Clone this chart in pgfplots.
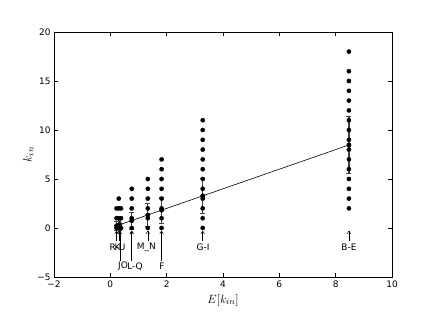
\documentclass[border=0pt]{standalone}
\usepackage{pgfplots}
\pgfplotsset{compat=1.18}
\usepackage{fontspec}
\setmainfont{DejaVu Sans}
\usetikzlibrary{arrows.meta}
\begin{document}
\begin{tikzpicture}
\begin{axis}[
 name=ax,
 scale only axis, width=338bp, height=245bp,
 xmin=-2, xmax=10, ymin=-5, ymax=20,
 xtick={-2,0,2,4,6,8,10}, ytick={-5,0,5,10,15,20},
 xticklabels={−2,0,2,4,6,8,10}, yticklabels={−5,0,5,10,15,20},
 tick align=inside, major tick length=4bp,
 tick style={black, line width=0.5pt},
 axis line style={line width=0.8pt},
 ticklabel style={font=\fontsize{9}{10}\selectfont},
 xlabel={$E[k_{in}]$}, ylabel={$k_{in}$},
 label style={font=\fontsize{13}{15}\selectfont},
 xlabel style={yshift=0bp},
 ylabel style={yshift=-3bp},
 clip=false,
]
% individual nodes
\addplot[only marks, mark=*, mark size=2.1bp, black] coordinates {
 (0.22,0) (0.22,1) (0.22,2)
 (0.30,0) (0.30,1) (0.30,2) (0.30,3)
 (0.38,0) (0.38,1) (0.38,2)
 (0.76,0) (0.76,1) (0.76,2) (0.76,3) (0.76,4)
 (1.33,0) (1.33,1) (1.33,2) (1.33,3) (1.33,4) (1.33,5)
 (1.82,0) (1.82,1) (1.82,2) (1.82,3) (1.82,4) (1.82,5) (1.82,6) (1.82,7)
 (3.28,0) (3.28,1) (3.28,2) (3.28,3) (3.28,4) (3.28,5) (3.28,6) (3.28,7) (3.28,8) (3.28,9) (3.28,10) (3.28,11)
 (8.47,2) (8.47,3) (8.47,4) (8.47,5) (8.47,6) (8.47,7) (8.47,8) (8.47,9) (8.47,10) (8.47,11) (8.47,12) (8.47,13) (8.47,14) (8.47,15) (8.47,16) (8.47,18)
};
% means with Poisson error bars
\addplot[black, line width=0.6pt, mark=*, mark size=2.1bp,
 error bars/.cd, y dir=both, y explicit,
 error bar style={line width=1.2pt, black!75},
 error mark options={rotate=90, mark size=2.5bp, line width=0.8pt, black!75}]
 coordinates {
 (0.22,0.22) +- (0,0.47)
 (0.30,0.30) +- (0,0.55)
 (0.34,0.34) +- (0,0.58)
 (0.76,0.76) +- (0,0.87)
 (1.33,1.33) +- (0,1.15)
 (1.82,1.82) +- (0,1.35)
 (3.28,3.28) +- (0,1.81)
 (8.47,8.47) +- (0,2.91)
};
% annotations
\begin{scope}[every node/.style={font=\fontsize{9}{10}\selectfont, inner sep=0pt}]
\node at (axis cs:0.254,-1.94) {R-U};
\node at (axis cs:0.254,-1.94) {K};
\node at (axis cs:1.28,-1.94) {M\_N};
\node at (axis cs:3.29,-1.94) {G-I};
\node at (axis cs:8.47,-1.94) {B-E};
\node at (axis cs:0.45,-3.93) {JO};
\node at (axis cs:0.875,-3.93) {L-Q};
\node at (axis cs:1.83,-3.93) {F};
\end{scope}
\begin{scope}[-{To[length=3bp,width=4bp]}, line width=0.5pt]
\draw (axis cs:0.22,-1.35) -- (axis cs:0.22,-0.3);
\draw (axis cs:0.30,-1.35) -- (axis cs:0.30,-0.3);
\draw (axis cs:1.33,-1.35) -- (axis cs:1.33,-0.3);
\draw (axis cs:3.28,-1.35) -- (axis cs:3.28,-0.3);
\draw (axis cs:8.47,-1.35) -- (axis cs:8.47,-0.3);
\draw (axis cs:0.34,-3.35) -- (axis cs:0.34,-0.3);
\draw[line width=1pt] (axis cs:0.76,-3.35) -- (axis cs:0.76,-0.3);
\draw (axis cs:1.82,-3.35) -- (axis cs:1.82,-0.3);
\end{scope}
\end{axis}
\useasboundingbox ([shift={(-54bp,-50bp)}]ax.south west) rectangle ([shift={(44bp,32bp)}]ax.north east);
\end{tikzpicture}
\end{document}
